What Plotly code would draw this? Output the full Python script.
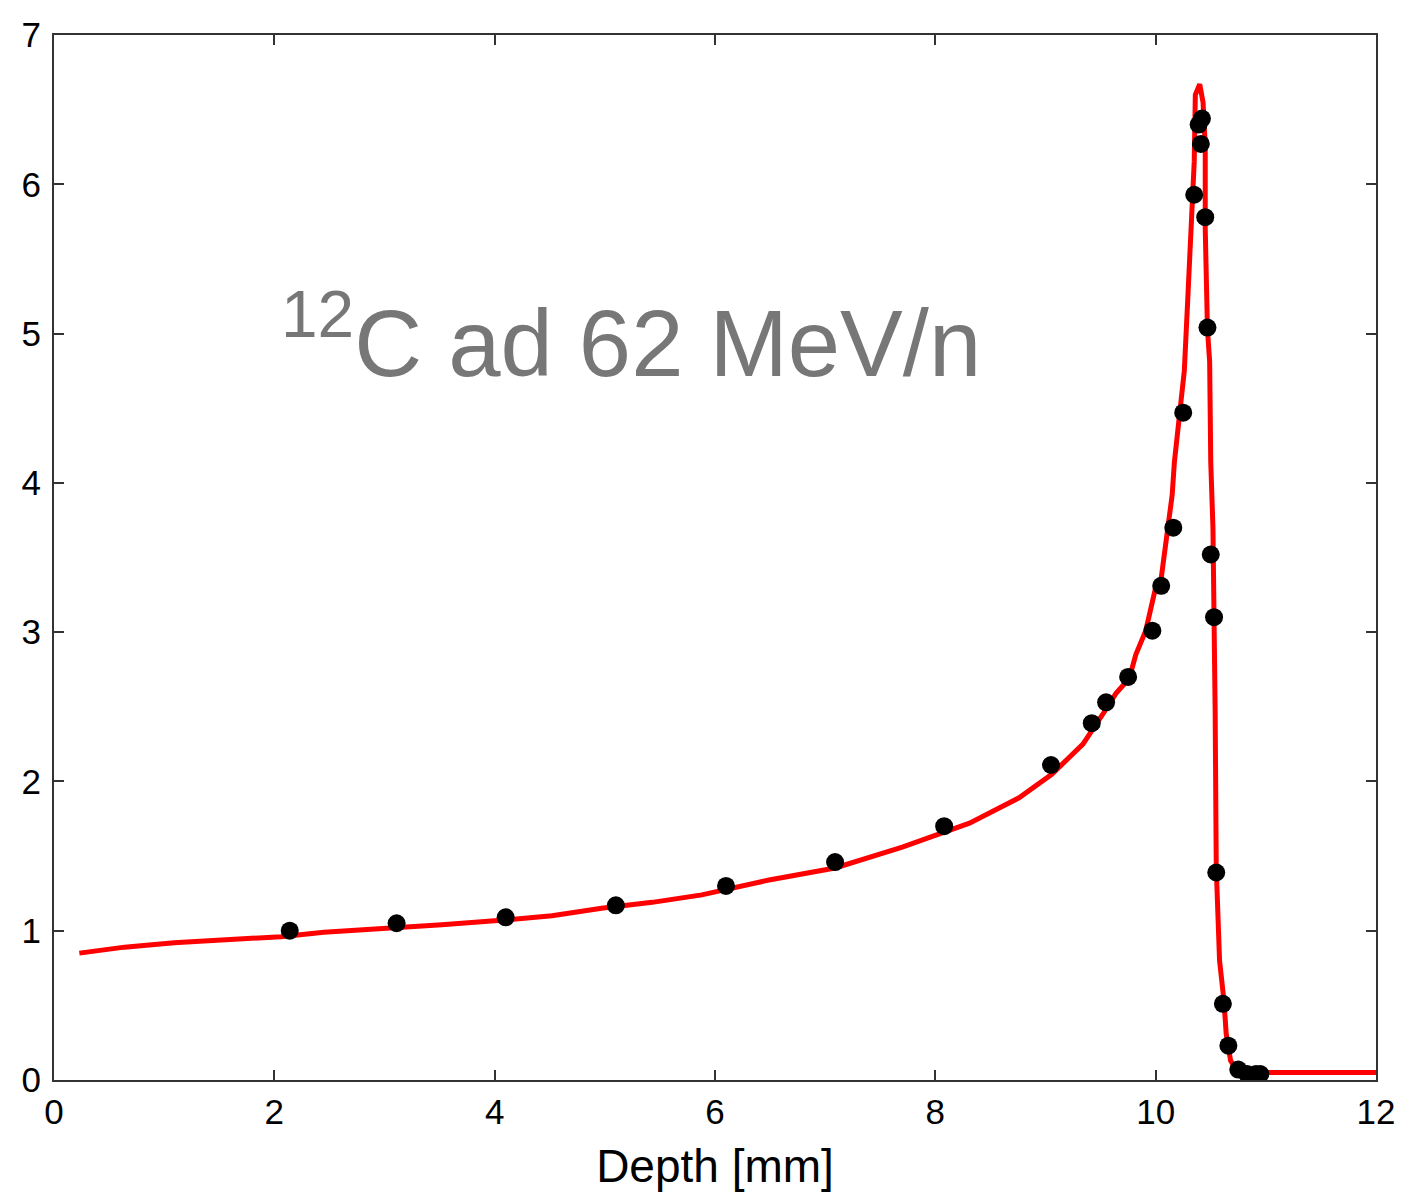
import plotly.graph_objects as go

## measured points (black dots)
depth_meas = [2.14, 3.11, 4.10, 5.10, 6.10, 7.09, 8.08, 9.05, 9.42, 9.55, 9.75,
              9.97, 10.05, 10.16, 10.25, 10.35, 10.39, 10.42, 10.41, 10.45, 10.47,
              10.50, 10.53, 10.55, 10.61, 10.66, 10.75, 10.83, 10.91, 10.95]
dose_meas = [1.00, 1.05, 1.09, 1.17, 1.30, 1.46, 1.70, 2.11, 2.39, 2.53, 2.70,
             3.01, 3.31, 3.70, 4.47, 5.93, 6.40, 6.44, 6.27, 5.78, 5.04,
             3.52, 3.10, 1.39, 0.51, 0.23, 0.07, 0.04, 0.04, 0.04]

## simulated curve (red line)
depth_sim = [0.23, 0.64, 1.09, 1.58, 2.06, 2.45, 2.91, 3.15, 3.52, 4.06, 4.52, 4.97,
             5.43, 5.88, 6.49, 7.09, 7.70, 8.31, 8.76, 9.06, 9.34, 9.52, 9.64,
             9.76, 9.82, 9.91, 10.0, 10.05, 10.15, 10.17, 10.22, 10.26, 10.29,
             10.31, 10.33, 10.35, 10.36, 10.40, 10.43, 10.45, 10.45, 10.47, 10.49,
             10.50, 10.52, 10.53, 10.54, 10.55, 10.58, 10.62, 10.64, 10.68, 10.73,
             10.79, 11.0, 12.0]
dose_sim = [0.85, 0.89, 0.92, 0.94, 0.96, 0.99, 1.01, 1.02, 1.04, 1.07, 1.10, 1.15,
            1.19, 1.24, 1.34, 1.42, 1.56, 1.72, 1.89, 2.05, 2.25, 2.45, 2.59,
            2.69, 2.85, 3.01, 3.30, 3.36, 3.92, 4.14, 4.48, 4.75, 5.21,
            5.57, 5.93, 6.15, 6.60, 6.67, 6.55, 6.26, 5.70, 5.03, 4.81,
            4.14, 3.70, 3.26, 2.47, 1.42, 0.80, 0.53, 0.31, 0.13, 0.07,
            0.05, 0.05, 0.05]

x_ticks = [0, 2, 4, 6, 8, 10, 12]
y_ticks = [0, 1, 2, 3, 4, 5, 6, 7]

fig = go.Figure()
fig.add_trace(go.Scatter(x=depth_sim, y=dose_sim, mode="lines",
                         line=dict(color="#ff0000", width=5), showlegend=False))
fig.add_trace(go.Scatter(x=depth_meas, y=dose_meas, mode="markers",
                         marker=dict(color="black", size=18), showlegend=False))

## big grey label inside the plot (paper coords of the plot area)
fig.add_annotation(x=(631 - 54) / 1322, y=(1080 - 275) / 1045,
                   xref="paper", yref="paper", text="<sup>12</sup>C ad 62 MeV/n",
                   showarrow=False, font=dict(size=94, color="#777777", family="Liberation Sans"))

axis_common = dict(showline=True, linecolor="#333333", linewidth=2, mirror="ticks",
                   ticks="inside", ticklen=10, tickwidth=2, tickcolor="#333333",
                   showgrid=False, zeroline=False, automargin=False,
                   tickfont=dict(size=35, color="black", family="Liberation Sans"))

fig.update_xaxes(range=[0, 12], tickvals=x_ticks, **axis_common,
                 title=dict(text="Depth [mm]", font=dict(size=46, color="black",
                                                         family="Liberation Sans"), standoff=20))
fig.update_yaxes(range=[0, 7], tickvals=y_ticks, ticklabelstandoff=4, **axis_common)

# page body has an 8px margin, so the figure is a bit smaller than the window
fig.update_layout(width=1395, height=1190, plot_bgcolor="white", paper_bgcolor="white",
                  margin=dict(l=46, r=27, t=27, b=118))

fig.write_html("out.html")
